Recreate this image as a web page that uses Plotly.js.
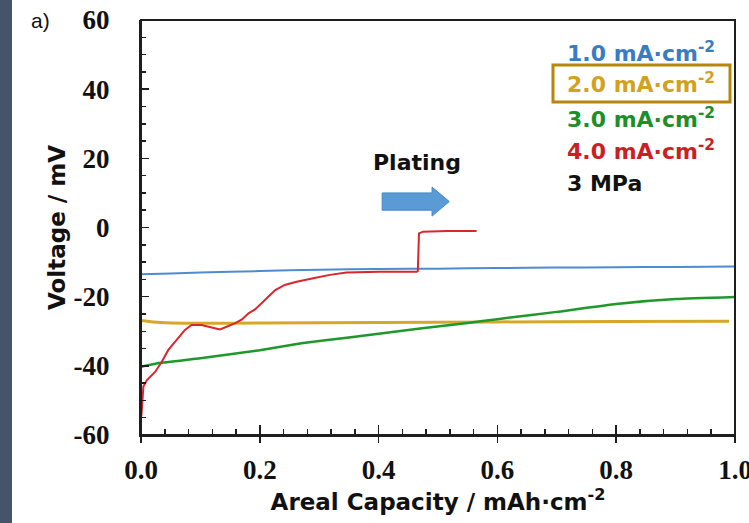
<!DOCTYPE html>
<html>
<head>
<meta charset="utf-8">
<script src="https://cdn.plot.ly/plotly-3.0.1.min.js"></script>
<style>
  html, body { margin: 0; padding: 0; background: #ffffff; }
  #chart { width: 749px; height: 523px; }
</style>
</head>
<body>
<div id="chart"></div>
<script>
// Li plating voltage profiles at 3 MPa for four current densities
const cap10 = [0, 0.05, 0.1, 0.2, 0.3, 0.4, 0.5, 0.6, 0.7, 0.8, 0.9, 1.0];
const volt10 = [-13.5, -13.3, -13.0, -12.6, -12.2, -12.0, -11.9, -11.7, -11.6, -11.5, -11.4, -11.3];

const cap20 = [0, 0.02, 0.05, 0.1, 0.2, 0.4, 0.6, 0.8, 0.99];
const volt20 = [-26.9, -27.3, -27.6, -27.7, -27.6, -27.5, -27.3, -27.2, -27.1];

const cap30 = [0, 0.03, 0.1, 0.2, 0.27, 0.35, 0.47, 0.55, 0.6, 0.7, 0.8, 0.9, 1.0];
const volt30 = [-40.3, -39.2, -37.8, -35.5, -33.5, -31.8, -29.2, -27.6, -26.5, -24.4, -22.1, -20.7, -20.1];

const cap40 = [0, 0.001, 0.004, 0.01, 0.024, 0.035, 0.046, 0.057, 0.074, 0.085, 0.102, 0.119,
  0.133, 0.144, 0.158, 0.170, 0.181, 0.192, 0.203, 0.214, 0.226, 0.242, 0.262, 0.290, 0.318,
  0.346, 0.374, 0.402, 0.464, 0.466, 0.468, 0.475, 0.515, 0.565];
const volt40 = [-55, -53.7, -46.0, -44.1, -41.7, -38.8, -35.4, -33.0, -29.6, -28.2, -28.2, -28.9,
  -29.5, -28.7, -27.7, -26.6, -24.8, -23.7, -21.9, -20.0, -18.1, -16.6, -15.7, -14.7, -13.7,
  -13.0, -12.8, -12.8, -12.8, -12.6, -1.7, -1.2, -1.0, -1.0];

const seriesNames = ['1.0 mA·cm<sup>-2</sup>', '2.0 mA·cm<sup>-2</sup>', '3.0 mA·cm<sup>-2</sup>', '4.0 mA·cm<sup>-2</sup>'];
const pressureLabel = '3 MPa';
const xTickVals = [0, 0.2, 0.4, 0.6, 0.8, 1.0];
const xTickText = ['0.0', '0.2', '0.4', '0.6', '0.8', '1.0'];
const yTickVals = [-60, -40, -20, 0, 20, 40, 60];
const yTickText = ['-60', '-40', '-20', '0', '20', '40', '60'];

const colors = ['#4d8ccf', '#d6a829', '#1f982a', '#d8262c'];
const textColors = ['#3a7cc4', '#d2a21f', '#1c8f28', '#cc1f25'];
const widths = [2, 3, 2.5, 2];

const sans = 'DejaVu Sans, Liberation Sans, Arial, sans-serif';
const serif = 'Liberation Serif, Times New Roman, serif';

const xs = [cap10, cap20, cap30, cap40];
const ys = [volt10, volt20, volt30, volt40];

const traces = xs.map((x, i) => ({
  x: x, y: ys[i], type: 'scatter', mode: 'lines', name: seriesNames[i],
  line: { color: colors[i], width: widths[i], shape: 'spline', smoothing: 0.4 },
  showlegend: false, hoverinfo: 'skip'
}));
// the plating step is a sharp jump, keep it linear
traces[3].line.shape = 'linear';

// empty carrier so the second x axis (outward major ticks) is drawn
traces.push({ x: [0.5], y: [null], xaxis: 'x2', yaxis: 'y', type: 'scatter', mode: 'lines',
  showlegend: false, hoverinfo: 'skip' });

// legend text block on the right
const legendX = 0.714;
const legendY = [0.923, 0.848, 0.764, 0.687, 0.607];
const annotations = seriesNames.map((t, i) => ({
  text: t, xref: 'paper', yref: 'paper', x: legendX, y: legendY[i],
  xanchor: 'left', yanchor: 'middle', showarrow: false,
  font: { family: sans, size: 22, color: textColors[i], weight: 'bold' }
}));
annotations.push({
  text: pressureLabel, xref: 'paper', yref: 'paper', x: legendX, y: legendY[4],
  xanchor: 'left', yanchor: 'middle', showarrow: false,
  font: { family: sans, size: 22, color: '#111111', weight: 'bold' }
});
annotations.push({
  text: 'Plating', xref: 'x', yref: 'y', x: 0.465, y: 18.9,
  xanchor: 'center', yanchor: 'middle', showarrow: false,
  font: { family: sans, size: 22, color: '#111111', weight: 'bold' }
});
annotations.push({
  text: 'a)', xref: 'paper', yref: 'paper', x: -0.17, y: 1.0,
  xanchor: 'center', yanchor: 'middle', showarrow: false,
  font: { family: 'Liberation Sans, Arial, sans-serif', size: 21, color: '#111111' }
});

const axisLine = '#1e1e1e';
const shapes = [
  // dark side band at the left edge of the figure
  { type: 'rect', xref: 'paper', yref: 'paper', x0: -0.2374, x1: -0.2172, y0: -0.25, y1: 1.1,
    fillcolor: '#44546a', line: { width: 0 }, layer: 'below' },
  // closed frame round the plotting area
  { type: 'rect', xref: 'paper', yref: 'paper', x0: 0, x1: 1, y0: 0, y1: 1,
    fillcolor: 'rgba(0,0,0,0)', line: { color: axisLine, width: 2 } },
  // highlight frame around the 2.0 mA·cm-2 entry
  { type: 'rect', xref: 'paper', yref: 'paper', x0: 0.6936, x1: 0.9916, y0: 0.8024, y1: 0.8916,
    fillcolor: 'rgba(0,0,0,0)', line: { color: '#b8860b', width: 3 } },
  // block arrow pointing in the plating direction
  { type: 'path', xref: 'x', yref: 'y',
    path: 'M 0.406 5 L 0.49 5 L 0.49 3.3 L 0.519 7.5 L 0.49 11.7 L 0.49 10 L 0.406 10 Z',
    fillcolor: '#5b9bd5', line: { color: '#4a87c2', width: 1 } }
];

const layout = {
  width: 749, height: 523,
  margin: { l: 141, r: 14, t: 20, b: 88 },
  paper_bgcolor: '#ffffff', plot_bgcolor: '#ffffff',
  showlegend: false,
  xaxis: {
    range: [0, 1], tickmode: 'array', tickvals: xTickVals, ticktext: xTickText,
    ticks: 'inside', ticklen: 10, tickwidth: 1.5, tickcolor: axisLine,
    minor: { dtick: 0.04, ticks: 'inside', ticklen: 6, tickwidth: 1.5, tickcolor: axisLine },
    showline: true, linecolor: axisLine, linewidth: 2,
    showgrid: false, zeroline: false, ticklabelstandoff: 10, ticklabeloverflow: 'allow',
    tickfont: { family: serif, size: 27, color: '#111111', weight: 'bold' },
    title: { text: 'Areal Capacity / mAh·cm<sup>-2</sup>', standoff: 8,
      font: { family: sans, size: 23, color: '#111111', weight: 'bold' } }
  },
  xaxis2: {
    overlaying: 'x', matches: 'x', anchor: 'y', side: 'bottom',
    tickmode: 'array', tickvals: xTickVals, ticks: 'outside', ticklen: 7, tickwidth: 1.5,
    tickcolor: axisLine, showticklabels: false, showline: false, showgrid: false, zeroline: false
  },
  yaxis: {
    range: [-60, 60], tickmode: 'array', tickvals: yTickVals, ticktext: yTickText,
    ticks: 'inside', ticklen: 8, tickwidth: 1.5, tickcolor: axisLine,
    minor: { dtick: 5, ticks: 'inside', ticklen: 5, tickwidth: 1.5, tickcolor: axisLine },
    showline: true, linecolor: axisLine, linewidth: 2,
    showgrid: false, zeroline: false, ticklabelstandoff: 24, ticklabeloverflow: 'allow',
    tickfont: { family: serif, size: 27, color: '#111111', weight: 'bold' },
    title: { text: 'Voltage / mV', standoff: 2,
      font: { family: sans, size: 23, color: '#111111', weight: 'bold' } }
  },
  annotations: annotations,
  shapes: shapes
};

Plotly.newPlot('chart', traces, layout, { staticPlot: true, displayModeBar: false });
</script>
</body>
</html>
